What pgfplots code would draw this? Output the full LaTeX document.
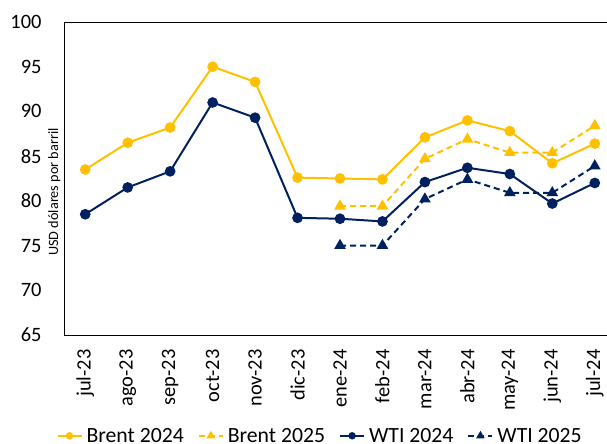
\documentclass[border=0pt]{standalone}
\usepackage{fontspec}
\setmainfont{Carlito}
\usepackage{pgfplots}
\pgfplotsset{compat=1.18}
\definecolor{brent}{HTML}{FFC000}
\definecolor{wti}{HTML}{002060}
\begin{document}
\begin{tikzpicture}
\begin{axis}[
  at={(64bp,109bp)}, anchor=south west,
  scale only axis, width=552bp, height=313bp,
  xmin=-0.5, xmax=12.5, ymin=65, ymax=100,
  ytick={65,70,...,100},
  xtick={0,...,12},
  xticklabels={jul-23,ago-23,sep-23,oct-23,nov-23,dic-23,ene-24,feb-24,mar-24,abr-24,may-24,jun-24,jul-24},
  major tick length=0pt,
  /pgf/number format/assume math mode=true,
  tick label style={font=\fontsize{20.5}{24}\selectfont},
  yticklabel style={xshift=-19bp},
  xticklabel style={rotate=90, anchor=east, xshift=-11bp},
  axis line style={black, line width=0.8pt},
  ylabel={USD dólares por barril},
  ylabel style={font=\fontsize{14.3}{16}\selectfont, at={(rel axis cs:0,0.46)}, anchor=south, xshift=-1bp, rotate=0},
  legend columns=4,
  legend style={at={(0.464,-0.322)}, anchor=center, draw=none, fill=none,
    font=\fontsize{21.8}{24}\selectfont, inner sep=0pt,
    /tikz/every odd column/.append style={column sep=2bp},
    /tikz/every even column/.append style={column sep=12bp}},
  legend image code/.code={
    \draw[#1, mark repeat=2, mark phase=2, mark options={solid, scale=0.62}] plot coordinates {(0bp,0bp) (12bp,0bp) (24bp,0bp)};},
]
\addplot[brent, line width=2pt, mark=*, mark size=4.3bp, mark options={solid}] coordinates {
(0,83.5) (1,86.5) (2,88.2) (3,95.0) (4,93.3) (5,82.6) (6,82.5) (7,82.4) (8,87.1) (9,89.0) (10,87.8) (11,84.2) (12,86.4)};
\addlegendentry{Brent 2024}
\addplot[brent, line width=2pt, dashed, dash pattern=on 6bp off 4bp, mark=triangle*, mark size=4.8bp, mark options={solid}] coordinates {
(6,79.4) (7,79.4) (8,84.7) (9,86.9) (10,85.4) (11,85.4) (12,88.4)};
\addlegendentry{Brent 2025}
\addplot[wti, line width=2pt, mark=*, mark size=4.3bp, mark options={solid}] coordinates {
(0,78.5) (1,81.5) (2,83.3) (3,91.0) (4,89.3) (5,78.1) (6,78.0) (7,77.7) (8,82.1) (9,83.7) (10,83.0) (11,79.7) (12,82.0)};
\addlegendentry{WTI 2024}
\addplot[wti, line width=2pt, dashed, dash pattern=on 6bp off 4bp, mark=triangle*, mark size=4.8bp, mark options={solid}] coordinates {
(6,75.0) (7,75.0) (8,80.2) (9,82.4) (10,80.9) (11,80.9) (12,83.9)};
\addlegendentry{WTI 2025}
\end{axis}
\pgfresetboundingbox
\path[use as bounding box] (0,0) rectangle (607bp,444bp);
\end{tikzpicture}
\end{document}
